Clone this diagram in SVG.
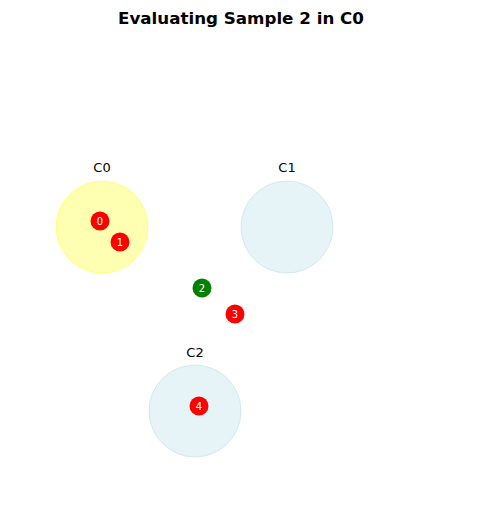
<svg xmlns="http://www.w3.org/2000/svg" width="481" height="514" viewBox="0 0 481 514">
<style>
.t{font-family:"DejaVu Sans",sans-serif;font-size:13px;fill:#000}
.title{font-family:"DejaVu Sans",sans-serif;font-size:16.7px;font-weight:bold;fill:#000}
.pl{font-family:"DejaVu Sans",sans-serif;font-size:10px;fill:#fff}
.cy{fill:#ffff00;fill-opacity:0.3;stroke:#ffff00;stroke-opacity:0.4;stroke-width:1}
.cb{fill:#add8e6;fill-opacity:0.3;stroke:#add8e6;stroke-opacity:0.45;stroke-width:1}
</style>
<rect width="481" height="514" fill="#fff"/>
<text class="title" x="241" y="24" text-anchor="middle">Evaluating Sample 2 in C0</text>
<g id="C0">
<circle class="cy" cx="102" cy="227" r="46"/>
<text class="t" x="102" y="172" text-anchor="middle">C0</text>
</g>
<g id="C1">
<circle class="cb" cx="287" cy="227" r="46"/>
<text class="t" x="287" y="172" text-anchor="middle">C1</text>
</g>
<g id="C2">
<circle class="cb" cx="195" cy="411" r="46"/>
<text class="t" x="195" y="357" text-anchor="middle">C2</text>
</g>
<g id="p0"><circle cx="100" cy="221" r="9.5" fill="#ff0000"/><text class="pl" x="100" y="224.5" text-anchor="middle">0</text></g>
<g id="p1"><circle cx="120" cy="242" r="9.5" fill="#ff0000"/><text class="pl" x="120" y="245.5" text-anchor="middle">1</text></g>
<g id="p2"><circle cx="202" cy="288" r="9.5" fill="#008000"/><text class="pl" x="202" y="291.5" text-anchor="middle">2</text></g>
<g id="p3"><circle cx="235" cy="314" r="9.5" fill="#ff0000"/><text class="pl" x="235" y="317.5" text-anchor="middle">3</text></g>
<g id="p4"><circle cx="199" cy="406" r="9.5" fill="#ff0000"/><text class="pl" x="199" y="409.5" text-anchor="middle">4</text></g>
<g id="connectors"/>
</svg>
